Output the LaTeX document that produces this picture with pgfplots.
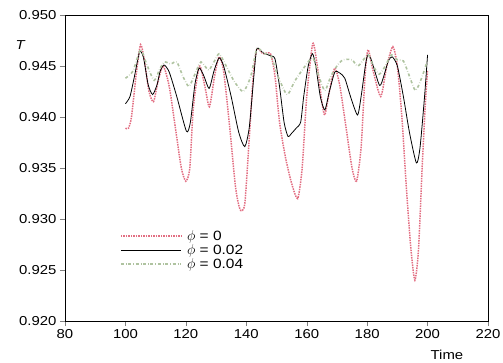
\documentclass[border=0pt]{standalone}
\usepackage{pgfplots}
\pgfplotsset{compat=1.18}
\usepackage{fontspec}
\setmainfont{Liberation Sans}[FakeStretch=1.15]
\definecolor{pinkc}{RGB}{226,110,130}
\definecolor{greenc}{RGB}{175,195,160}
\begin{document}
\begin{tikzpicture}
\useasboundingbox (-65bp,-42bp) rectangle (438bp,321bp);
\begin{axis}[
  scale only axis, width=423bp, height=306bp,
  xmin=80, xmax=220, ymin=0.920, ymax=0.950,
  xtick={80,100,...,220}, ytick={0.920,0.925,...,0.950},
  tick align=outside, xtick pos=bottom, ytick pos=left,
  major tick length=5bp,
  font=\fontsize{13}{15}\selectfont,
  /pgf/number format/assume math mode=true,
  yticklabel style={/pgf/number format/fixed, /pgf/number format/fixed zerofill, /pgf/number format/precision=3},
  scaled y ticks=false,
  axis line style={black, line width=0.6pt},
  xlabel={Time},
  xlabel style={at={(axis description cs:0.903,-0.095)}, anchor=north, inner sep=0pt},
  ylabel={\itshape T},
  ylabel style={at={(axis description cs:-0.106,0.902)}, anchor=center, rotate=-90, inner sep=0pt},
  legend style={at={(axis description cs:0.13,0.298)}, anchor=north west, draw=none, fill=none, font=\fontsize{13.5}{14}\selectfont, row sep=2bp, column sep=5bp, inner sep=0pt, nodes={inner sep=0.3bp}},
  legend cell align=left,
  legend image code/.code={\draw[#1] (0bp,0bp) -- (60bp,0bp);},
]
\addplot[pinkc, densely dotted, line width=1.5pt, smooth, tension=0.4] coordinates {
(100,0.9389)(101,0.9389)(102,0.9400)(103.5,0.9440)(105,0.9471)(106.3,0.9455)(107.8,0.9425)(109.3,0.9415)(110.8,0.9435)(112.5,0.9450)(114.5,0.9430)(116.5,0.9390)(118.5,0.9350)(120,0.9337)(121.3,0.9350)(122.5,0.9410)(124.5,0.9450)(126.3,0.9430)(127.8,0.9410)(129.5,0.9440)(131,0.9459)(132.5,0.9445)(134.5,0.9390)(136.5,0.9330)(138,0.9309)(139.5,0.9315)(141,0.9380)(142.3,0.9440)(143.5,0.9467)(145.5,0.9462)(148,0.9462)(149.5,0.9440)(151,0.9395)(153,0.9360)(155,0.9335)(157,0.9320)(158.5,0.9350)(160,0.9420)(162,0.9472)(163.5,0.9450)(165,0.9415)(166,0.9402)(167.5,0.9425)(169.3,0.9448)(171,0.9430)(173,0.9390)(175,0.9350)(176.5,0.9337)(178,0.9370)(179.3,0.9440)(180.3,0.9466)(182,0.9445)(184.5,0.9420)(186.5,0.9450)(188.5,0.9469)(190,0.9450)(191.5,0.9400)(193,0.9330)(194.5,0.9270)(195.8,0.9240)(197,0.9270)(198.2,0.9350)(199.2,0.9410)(200,0.9446)
};
\addlegendentry{$\phi$ = 0}
\addplot[black, line width=0.8pt, smooth, tension=0.4] coordinates {
(100,0.9413)(101.5,0.9420)(103,0.9440)(104.7,0.9464)(106,0.9458)(107.5,0.9432)(109,0.9422)(110.5,0.9432)(111.5,0.9445)(112.8,0.9451)(114.5,0.9444)(117,0.9420)(120.2,0.9386)(121.5,0.9395)(123,0.9432)(124.4,0.9448)(126,0.9440)(127.7,0.9428)(129.3,0.9445)(131,0.9458)(132.5,0.9450)(135,0.9420)(137.5,0.9385)(139.5,0.9371)(141,0.9390)(142.5,0.9440)(143.5,0.9467)(145.5,0.9463)(148,0.9460)(149.5,0.9457)(151,0.9430)(152.5,0.9395)(153.8,0.9381)(155,0.9384)(156.5,0.9389)(158,0.9395)(159,0.9420)(160.5,0.9450)(161.9,0.9462)(163,0.9450)(164.5,0.9420)(166,0.9407)(167.5,0.9425)(169.3,0.9444)(171,0.9443)(172.6,0.9438)(174.5,0.9420)(176.8,0.9402)(178,0.9420)(179.5,0.9452)(180.3,0.9461)(181.5,0.9455)(184.1,0.9431)(185.5,0.9440)(187,0.9455)(188.3,0.9459)(190,0.9450)(192,0.9420)(194,0.9385)(196.3,0.9355)(197.5,0.9370)(199,0.9420)(200,0.9461)
};
\addlegendentry{$\phi$ = 0.02}
\addplot[greenc, dash dot, line width=1.6pt, smooth, tension=0.4] coordinates {
(100,0.9438)(102.5,0.9445)(105,0.9466)(107,0.9452)(109.5,0.9436)(111.5,0.9448)(113,0.9454)(115,0.9452)(117,0.9454)(119,0.9440)(121,0.9430)(123,0.9442)(125,0.9454)(127.5,0.9446)(129.5,0.9455)(131,0.9462)(133,0.9452)(136,0.9435)(139,0.9425)(141.5,0.9440)(143.5,0.9467)(146,0.9462)(148,0.9461)(150.5,0.9440)(153.5,0.9422)(156,0.9435)(159,0.9448)(162,0.9458)(164,0.9440)(166,0.9426)(168,0.9440)(170,0.9450)(172,0.9456)(175,0.9456)(177,0.9450)(180.3,0.9461)(182,0.9450)(184,0.9442)(186,0.9450)(188,0.9461)(190,0.9456)(192,0.9455)(194,0.9440)(196,0.9426)(198,0.9438)(200,0.9456)
};
\addlegendentry{$\phi$ = 0.04}
\end{axis}
\end{tikzpicture}
\end{document}
